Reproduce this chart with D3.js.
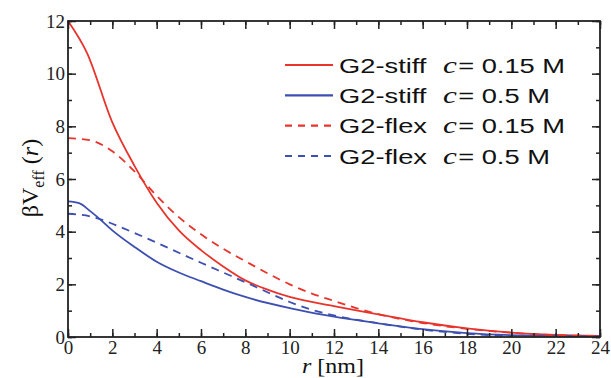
<!DOCTYPE html>
<html>
<head>
<meta charset="UTF-8">
<script src="https://cdn.jsdelivr.net/npm/d3@7"></script>
<style>
  body { margin: 0; background: #fff; }
</style>
</head>
<body>
<svg id="chart" width="611" height="378"></svg>
<script>
// radial distance r [nm] for each curve and the values
var rStiff015 = [0, 0.85, 2, 3, 4, 5, 6, 7, 8, 9, 10, 12, 14, 16, 18, 20, 22, 24];
var vStiff015 = [12, 10.8, 8.15, 6.5, 5.1, 4.05, 3.3, 2.68, 2.15, 1.8, 1.52, 1.17, 0.86, 0.56, 0.33, 0.17, 0.08, 0.04];

var rStiff05 = [0, 0.5, 1, 1.5, 2, 3, 4, 5, 6, 7, 8, 10, 12, 14, 16, 18, 20, 22, 24];
var vStiff05 = [5.15, 5.08, 4.78, 4.43, 4.05, 3.42, 2.86, 2.45, 2.12, 1.8, 1.52, 1.1, 0.77, 0.52, 0.3, 0.15, 0.07, 0.04, 0.02];

var rFlex015 = [0, 1, 2, 3, 4, 5, 6, 7, 8, 9, 10, 11, 12, 13, 14, 16, 18, 20, 22, 24];
var vFlex015 = [7.55, 7.47, 7.05, 6.29, 5.36, 4.55, 3.9, 3.35, 2.88, 2.42, 2.0, 1.65, 1.37, 1.1, 0.87, 0.53, 0.31, 0.16, 0.07, 0.04];

var rFlex05 = [0, 1, 1.5, 2, 3, 4, 5, 6, 7, 8, 9, 10, 11, 12, 14, 16, 18, 20];
var vFlex05 = [4.68, 4.58, 4.46, 4.3, 3.95, 3.58, 3.2, 2.82, 2.45, 2.08, 1.7, 1.33, 1.03, 0.82, 0.52, 0.28, 0.12, 0.04];

var legendNames = ["G2-stiff", "G2-stiff", "G2-flex", "G2-flex"];
var legendConc = ["= 0.15 M", "= 0.5 M", "= 0.15 M", "= 0.5 M"];

var xTicks = [0, 2, 4, 6, 8, 10, 12, 14, 16, 18, 20, 22, 24];
var yTicks = [0, 2, 4, 6, 8, 10, 12];

var red = "#e8342c", blue = "#3d4fb0";
var serif = "Liberation Serif, DejaVu Serif, serif";
var sans = "Liberation Sans, Arial, sans-serif";

var series = [
  { r: rStiff015, v: vStiff015, color: red, dash: null },
  { r: rStiff05, v: vStiff05, color: blue, dash: null },
  { r: rFlex015, v: vFlex015, color: red, dash: "8,6" },
  { r: rFlex05, v: vFlex05, color: blue, dash: "8,6" }
];

var margin = { left: 68, right: 11, top: 21, bottom: 41 };
var width = 611, height = 378;

var x = d3.scaleLinear().domain([0, 24]).range([margin.left, width - margin.right]);
var y = d3.scaleLinear().domain([0, 12]).range([height - margin.bottom, margin.top]);

var svg = d3.select("#chart");

// curves (drawn first so the frame sits on top)
var line = d3.line()
  .x(function(d) { return x(d[0]); })
  .y(function(d) { return y(d[1]); })
  .curve(d3.curveMonotoneX);

series.forEach(function(s) {
  svg.append("path")
    .datum(s.r.map(function(r, i) { return [r, s.v[i]]; }))
    .attr("d", line)
    .attr("fill", "none")
    .attr("stroke", s.color)
    .attr("stroke-width", 1.8)
    .attr("stroke-dasharray", s.dash);
});

// axes, ticks pointing inward on all four sides
var xMinor = d3.range(0, 25, 1), yMinor = d3.range(0, 13, 1);

function tickStyle(g) {
  g.attr("font-family", serif).attr("font-size", 19);
  g.select(".domain").remove();
  g.selectAll(".tick line").attr("stroke", "#222").attr("stroke-width", 1.5);
  g.selectAll(".tick text").attr("fill", "#222");
}

svg.append("g").attr("transform", "translate(0," + y(0) + ")")
  .call(d3.axisBottom(x).tickValues(xMinor).tickSize(-4).tickFormat(""))
  .call(tickStyle);
svg.append("g").attr("transform", "translate(0," + y(0) + ")")
  .call(d3.axisBottom(x).tickValues(xTicks).tickSize(-8).tickPadding(4).tickFormat(d3.format("d")))
  .call(tickStyle);
svg.append("g").attr("transform", "translate(0," + y(12) + ")")
  .call(d3.axisTop(x).tickValues(xMinor).tickSize(-4).tickFormat(""))
  .call(tickStyle);
svg.append("g").attr("transform", "translate(0," + y(12) + ")")
  .call(d3.axisTop(x).tickValues(xTicks).tickSize(-8).tickFormat(""))
  .call(tickStyle);

svg.append("g").attr("transform", "translate(" + x(0) + ",0)")
  .call(d3.axisLeft(y).tickValues(yMinor).tickSize(-4).tickFormat(""))
  .call(tickStyle);
svg.append("g").attr("transform", "translate(" + x(0) + ",0)")
  .call(d3.axisLeft(y).tickValues(yTicks).tickSize(-8).tickPadding(3).tickFormat(d3.format("d")))
  .call(tickStyle);
svg.append("g").attr("transform", "translate(" + x(24) + ",0)")
  .call(d3.axisRight(y).tickValues(yMinor).tickSize(-4).tickFormat(""))
  .call(tickStyle);
svg.append("g").attr("transform", "translate(" + x(24) + ",0)")
  .call(d3.axisRight(y).tickValues(yTicks).tickSize(-8).tickFormat(""))
  .call(tickStyle);

// frame
svg.append("rect")
  .attr("x", x(0)).attr("y", y(12))
  .attr("width", x(24) - x(0)).attr("height", y(0) - y(12))
  .attr("fill", "none").attr("stroke", "#222").attr("stroke-width", 1.8);

// axis titles
svg.append("g")
  .attr("transform", "translate(" + (x(12) - 1) + ",373) scale(1.2,1)")
  .append("text")
  .attr("text-anchor", "middle")
  .attr("font-family", serif).attr("font-size", 20).attr("fill", "#111")
  .html('<tspan font-style="italic">r</tspan> [nm]');

svg.append("text")
  .attr("transform", "translate(38,178) rotate(-90)")
  .attr("text-anchor", "middle")
  .attr("font-family", serif).attr("font-size", 24).attr("fill", "#111")
  .html('βV<tspan font-size="16" dy="6">eff</tspan><tspan dy="-6"> (</tspan><tspan font-style="italic">r</tspan>)');

// legend
var legY = d3.scaleLinear().domain([0, 3]).range([65, 156]);
var leg = svg.append("g");
series.forEach(function(s, i) {
  leg.append("line")
    .attr("x1", 285).attr("x2", 333)
    .attr("y1", legY(i)).attr("y2", legY(i))
    .attr("stroke", s.color).attr("stroke-width", 2.2)
    .attr("stroke-dasharray", s.dash ? "7,6" : null);
  var t = leg.append("g")
    .attr("transform", "translate(339," + (legY(i) + 7.5) + ") scale(1.3,1)")
    .append("text")
    .attr("font-family", sans).attr("font-size", 21).attr("fill", "#111");
  t.append("tspan").attr("x", 0).text(legendNames[i]);
  t.append("tspan").attr("x", 80)
    .attr("font-family", serif).attr("font-style", "italic").attr("font-size", 24)
    .text("c");
  t.append("tspan").attr("dx", 1).text(legendConc[i]);
});
</script>
</body>
</html>
